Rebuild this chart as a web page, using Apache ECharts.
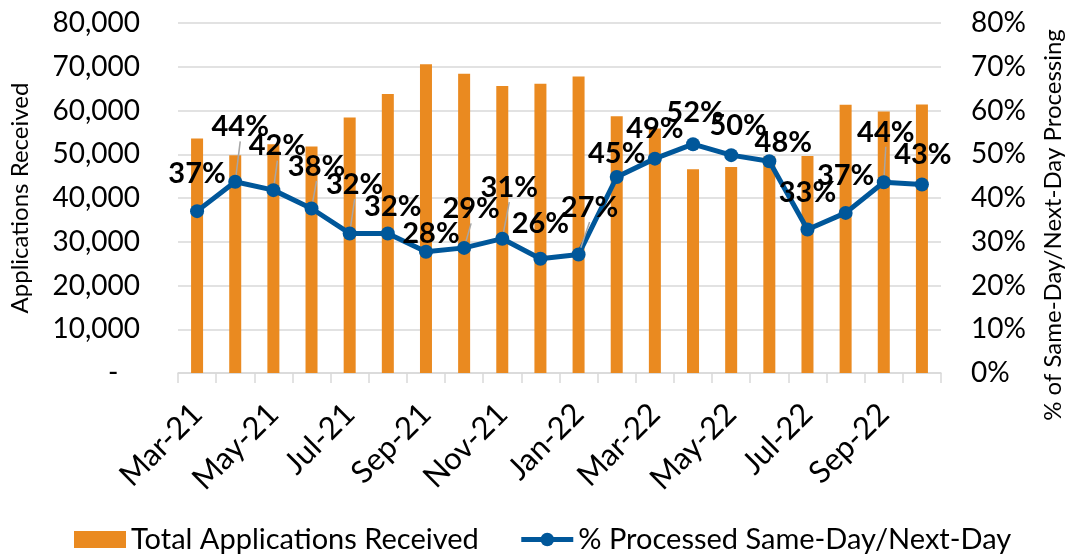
<!DOCTYPE html>
<html>
<head>
    <meta charset="UTF-8">
    <title>Applications Received</title>
    <script src="https://cdn.jsdelivr.net/npm/echarts@6/dist/echarts.min.js"></script>
    <style>
        html, body { margin: 0; padding: 0; background: #fff; }
        #main { width: 1073px; height: 554px; }
    </style>
</head>
<body>
<div id="main"></div>
<script>
    // chart data
    var months = ['Mar-21', 'Apr-21', 'May-21', 'Jun-21', 'Jul-21', 'Aug-21', 'Sep-21', 'Oct-21', 'Nov-21', 'Dec-21',
                  'Jan-22', 'Feb-22', 'Mar-22', 'Apr-22', 'May-22', 'Jun-22', 'Jul-22', 'Aug-22', 'Sep-22', 'Oct-22'];
    var applications = [53600, 49800, 52300, 51800, 58400, 63800, 70600, 68400, 65600, 66100,
                        67800, 58700, 55900, 46600, 47100, 49500, 49600, 61300, 59800, 61400];
    var processedPct = [37.0, 43.7, 41.8, 37.6, 31.9, 31.9, 27.7, 28.6, 30.7, 26.1,
                        27.1, 44.8, 49.0, 52.3, 49.8, 48.4, 32.8, 36.6, 43.6, 43.1];
    var leftTicks = [0, 80000, 10000];   // min, max, interval
    var rightTicks = [0, 80, 10];

    // where each % label sits relative to its marker (label layout, not data)
    var labelShift = [[0, -37], [5, -55], [4, -44], [5, -42], [5, -49], [5, -27], [5, -18], [7, -39], [7, -51], [0, -35],
                      [11, -47], [0, -23], [0, -30], [2, -32], [7, -29], [14, -19], [0, -37], [0, -37], [2, -50], [1, -30]];
    var withLeader = [1, 2, 3, 4, 7, 8, 10, 18];

    var font = 'Lato';
    var orange = '#EA8A20';
    var blue = '#00579A';
    var grey = '#D9D9D9';

    var lineData = processedPct.map(function (v, i) {
        return { value: v, labelLine: { show: withLeader.indexOf(i) >= 0 } };
    });

    var myChart = echarts.init(document.getElementById('main'));
    var option = {
        animation: false,
        textStyle: { fontFamily: font, color: '#000' },
        grid: { left: 175, right: 123, top: 23, bottom: 181 },
        legend: {
            left: 69,
            top: 520,
            itemWidth: 52,
            itemHeight: 17,
            itemGap: 40,
            textStyle: { fontFamily: font, fontSize: 29, color: '#000' },
            data: [
                { name: 'Total Applications Received', icon: 'rect' },
                { name: '% Processed Same-Day/Next-Day', lineStyle: { width: 5 } }
            ]
        },
        xAxis: {
            type: 'category',
            data: months,
            axisLine: { lineStyle: { color: grey, width: 1.5 } },
            axisTick: { show: true, interval: 0, length: 10, lineStyle: { color: grey, width: 1.5 } },
            axisLabel: { interval: 1, rotate: 45, margin: 36, fontSize: 31, color: '#000', fontFamily: font }
        },
        yAxis: [
            {
                type: 'value',
                min: leftTicks[0], max: leftTicks[1], interval: leftTicks[2],
                name: 'Applications Received',
                nameLocation: 'middle',
                nameGap: 146,
                nameTextStyle: { fontSize: 24, color: '#000', fontFamily: font },
                axisLine: { show: false },
                axisTick: { show: false },
                splitLine: { lineStyle: { color: grey, width: 1.5 } },
                axisLabel: {
                    fontSize: 28, color: '#000', margin: 38,
                    formatter: function (v) { return v === 0 ? '-   ' : v.toLocaleString('en-US'); }
                }
            },
            {
                type: 'value',
                min: rightTicks[0], max: rightTicks[1], interval: rightTicks[2],
                name: '% of Same-Day/Next-Day Processing',
                nameLocation: 'middle',
                nameGap: 100,
                nameTextStyle: { fontSize: 24, color: '#000', fontFamily: font, padding: [0, 54, 0, 0] },
                axisLine: { show: false },
                axisTick: { show: false },
                splitLine: { show: false },
                axisLabel: { fontSize: 28, color: '#000', margin: 30, formatter: '{value}%' }
            }
        ],
        series: [
            {
                name: 'Total Applications Received',
                type: 'bar',
                data: applications,
                barWidth: 12,
                itemStyle: { color: orange }
            },
            {
                name: '% Processed Same-Day/Next-Day',
                type: 'line',
                yAxisIndex: 1,
                data: lineData,
                symbol: 'circle',
                symbolSize: 14,
                lineStyle: { color: blue, width: 5 },
                itemStyle: { color: blue },
                label: {
                    show: true,
                    fontSize: 29,
                    fontWeight: 'bold',
                    fontFamily: font,
                    color: '#000',
                    formatter: function (p) { return Math.round(p.value) + '%'; }
                },
                labelLine: { show: false, lineStyle: { color: '#A6A6A6', width: 1.5 } },
                labelLayout: function (p) {
                    var s = labelShift[p.dataIndex];
                    return {
                        x: p.rect.x + p.rect.width / 2 + s[0],
                        y: p.rect.y + p.rect.height / 2 + s[1],
                        align: 'center',
                        verticalAlign: 'middle'
                    };
                }
            }
        ]
    };
    myChart.setOption(option);
</script>
</body>
</html>
